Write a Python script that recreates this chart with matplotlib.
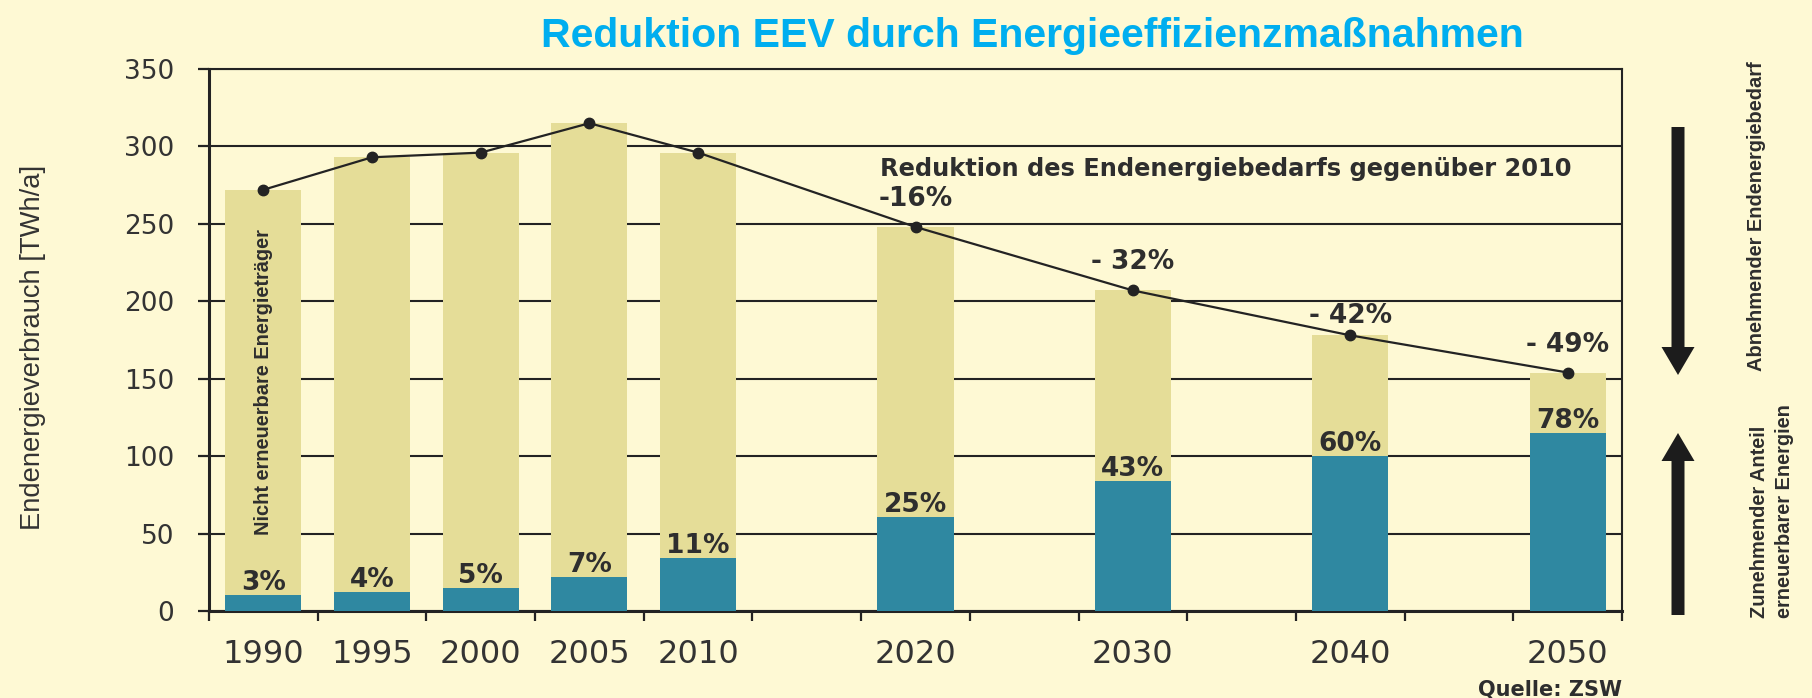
import matplotlib
matplotlib.use("Agg")
import matplotlib.pyplot as plt
from matplotlib import font_manager as fm
from matplotlib.patches import FancyArrow
import numpy as np

# ---------------- data ----------------
years = [1990, 1995, 2000, 2005, 2010, 2020, 2030, 2040, 2050]
total = [272, 293, 296, 315, 296, 248, 207, 178, 154]
renewable = [10.5, 12, 15, 22, 34, 61, 84, 100, 115]
share_labels = ["3%", "4%", "5%", "7%", "11%", "25%", "43%", "60%", "78%"]
reduction_years = [2020, 2030, 2040, 2050]
reduction_values = [248, 207, 178, 154]
reduction_labels = ["-16%", "- 32%", "- 42%", "- 49%"]
yticks = [0, 50, 100, 150, 200, 250, 300, 350]

title = "Reduktion EEV durch Energieeffizienzmaßnahmen"
ylabel = "Endenergieverbrauch [TWh/a]"
bar_text = "Nicht erneuerbare Energieträger"
reduction_title = "Reduktion des Endenergiebedarfs gegenüber 2010"
right_top = "Abnehmender Endenergiebedarf"
right_bottom = "Zunehmender Anteil\nerneuerbarer Energien"
source = "Quelle: ZSW"

non_renewable = [t - r for t, r in zip(total, renewable)]

# ---------------- style ----------------
BG = "#FEF9D4"
KHAKI = "#E5DD98"
TEAL = "#2F88A1"
TITLE_BLUE = "#00AEEF"
DARK = "#232323"
TXT = "#2E2E2E"

names = {f.name for f in fm.fontManager.ttflist}
if "Liberation Sans Narrow" in names:
    NARROW, nscale = "Liberation Sans Narrow", 1.0
else:
    NARROW, nscale = "Liberation Sans", 0.82

W, H = 1812, 698
fig = plt.figure(figsize=(W / 100, H / 100), dpi=100, facecolor=BG)
ax = fig.add_axes([209 / W, 87 / H, (1622 - 209) / W, (611 - 69) / H])
ax.set_facecolor(BG)
ax.set_xlim(1987.5, 2052.5)
ax.set_ylim(0, 350)

# bars
ax.bar(years, renewable, width=3.5, color=TEAL, zorder=3, linewidth=0)
ax.bar(years, non_renewable, width=3.5, bottom=renewable, color=KHAKI,
       zorder=3, linewidth=0)

# line
ax.plot(years, total, color=DARK, lw=1.6, marker="o", ms=7.5, zorder=5)

# grid & spines
ax.set_axisbelow(True)
ax.yaxis.grid(True, color=DARK, lw=1.5)
ax.xaxis.grid(False)
for side in ["left", "bottom"]:
    ax.spines[side].set_linewidth(2.2)
    ax.spines[side].set_color(DARK)
for side in ["right", "top"]:
    ax.spines[side].set_linewidth(1.5)
    ax.spines[side].set_color(DARK)

# y ticks
ax.set_yticks(yticks)
ax.set_yticklabels([str(v) for v in yticks])
ax.tick_params(axis="y", direction="out", length=8, width=1.6, color=DARK,
               labelsize=19, labelcolor="#333333", pad=17)

# x ticks: labels at years, tick marks between bars
ax.set_xticks(years)
ax.set_xticklabels([str(y) for y in years])
ax.set_xticks(np.arange(1987.5, 2053, 5), minor=True)
ax.tick_params(axis="x", which="major", length=0, labelsize=23,
               labelcolor="#333333", pad=20)
ax.tick_params(axis="x", which="minor", direction="out", length=7,
               width=1.6, color=DARK)
for lab in ax.get_xticklabels() + ax.get_yticklabels():
    lab.set_family("DejaVu Sans")

# share labels
for yr, r, lbl in zip(years, renewable, share_labels):
    ax.annotate(lbl, (yr, r), xytext=(0, 5), textcoords="offset pixels",
                ha="center", va="baseline", family="DejaVu Sans",
                weight="bold", size=19, color=TXT, zorder=6)

# reduction labels
for yr, v, lbl, off in zip(reduction_years, reduction_values,
                           reduction_labels, [21, 21, 12, 21]):
    ax.annotate(lbl, (yr, v), xytext=(0, off), textcoords="offset pixels",
                ha="center", va="baseline", family="DejaVu Sans",
                weight="bold", size=19, color=TXT, zorder=6)

ax.text(2018.37, 281, reduction_title, ha="left", va="baseline",
        family="DejaVu Sans", weight="bold", size=17.4, color=TXT, zorder=6)

ax.text(1990, 49, bar_text, rotation=90, ha="center", va="bottom",
        family=NARROW, weight="bold", size=17.6 * nscale, color=TXT,
        zorder=6)

# figure-level texts
fig.text(1032 / W, (H - 47) / H, title, ha="center", va="baseline",
         family="Liberation Sans", weight="bold", size=29.5,
         color=TITLE_BLUE)
fig.text(33 / W, (H - 347) / H, ylabel, rotation=90, ha="center",
         va="center", family=NARROW, size=24 * nscale, color="#333333")
fig.text(1756 / W, (H - 216) / H, right_top, rotation=90, ha="center",
         va="center", family=NARROW, weight="bold", size=17.6 * nscale,
         color=TXT)
fig.text(1772 / W, (H - 618) / H, right_bottom, rotation=90, ha="center",
         va="bottom", multialignment="left", linespacing=1.4,
         family=NARROW, weight="bold", size=17.6 * nscale, color=TXT)
fig.text(1622 / W, 2 / H, source, ha="right", va="baseline",
         family="DejaVu Sans", weight="bold", size=15, color=TXT)

# arrows on an overlay in pixel coordinates
ov = fig.add_axes([0, 0, 1, 1])
ov.set_xlim(0, W)
ov.set_ylim(H, 0)
ov.axis("off")
ov.patch.set_alpha(0)
ov.add_patch(FancyArrow(1678, 127, 0, 248, width=13, head_width=33,
                        head_length=28, length_includes_head=True,
                        color="#1c1c1c", lw=0))
ov.add_patch(FancyArrow(1678, 615, 0, -182, width=13, head_width=33,
                        head_length=28, length_includes_head=True,
                        color="#1c1c1c", lw=0))

fig.savefig("out.png", dpi=100, facecolor=BG)
